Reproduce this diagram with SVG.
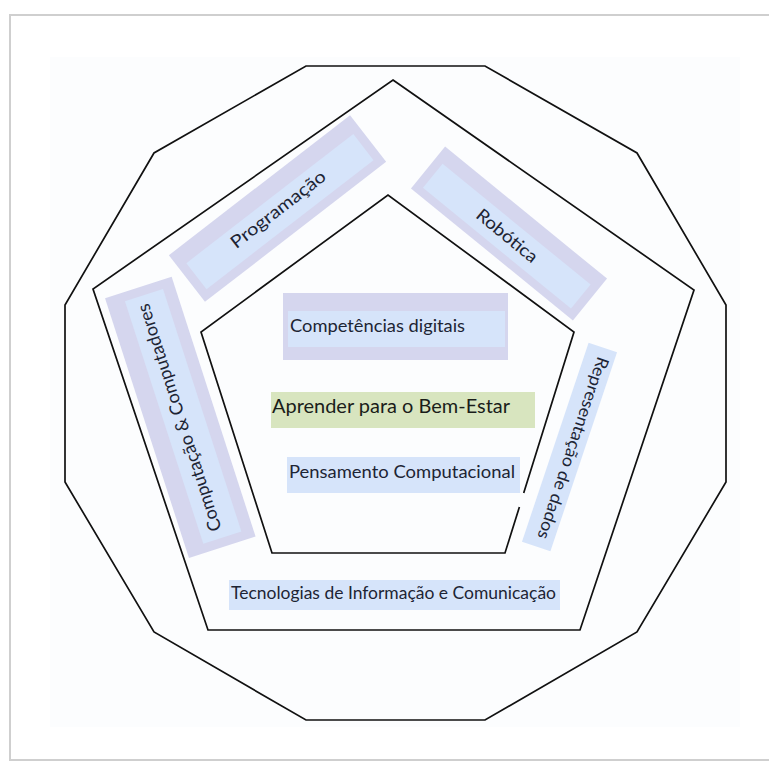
<svg xmlns="http://www.w3.org/2000/svg" width="769" height="765" viewBox="0 0 769 765">
<style>
.ln{fill:none;stroke:#111;stroke-width:1.7;stroke-linejoin:miter}
.lav{fill:#d5d6ee}
.lb{fill:#d6e4fa}
.gr{fill:#d8e5bf}
.t{font-family:Lato,"Open Sans","Liberation Sans",sans-serif;fill:#1d2434;text-anchor:middle}
</style>
<rect x="0" y="0" width="769" height="765" fill="#ffffff"/>
<rect x="10" y="15" width="800" height="745" fill="#ffffff" stroke="#cfcfcf" stroke-width="2"/>
<rect x="50" y="57" width="690" height="670" fill="#fcfdfe"/>
<g id="shapes">
<polygon id="outer-polygon" class="ln" points="306,66 485,66 637,153 726,305 726,482 637,632 485,720 306,720 154,632 65,482 65,305 154,153"/>
<polygon id="middle-pentagon" class="ln" points="393,80 694,290 580,630 208,630 93,289"/>
<polyline id="inner-pentagon" class="ln" points="519.4,507 505,553 272,553 201,332 388,195 574,332 523.7,493"/>
</g>
<g id="connectors"></g>
<g id="node-programacao" transform="translate(277.5,208.5) rotate(-37.7)">
<rect class="lav" x="-114.5" y="-29.5" width="229" height="59"/>
<rect class="lb" x="-105.5" y="-12.5" width="211" height="33"/>
<text class="t" x="0" y="7" font-size="17.5" textLength="115" lengthAdjust="spacingAndGlyphs">Programação</text>
</g>
<g id="node-robotica" transform="translate(509,233.5) rotate(39.2)">
<rect class="lav" x="-104.5" y="-27" width="209" height="54"/>
<rect class="lb" x="-95.5" y="-12" width="191" height="31"/>
<text class="t" x="0" y="9" font-size="17.5" textLength="74" lengthAdjust="spacingAndGlyphs">Robótica</text>
</g>
<g id="node-computacao" transform="translate(180.3,417.3) rotate(-107.9)">
<rect class="lav" x="-136.5" y="-35" width="273" height="70"/>
<rect class="lb" x="-127.5" y="-17" width="255" height="40"/>
<text class="t" x="0" y="5" font-size="18" textLength="238" lengthAdjust="spacingAndGlyphs">Computação &amp; Computadores</text>
</g>
<g id="node-representacao" transform="translate(569.5,447) rotate(108.5)">
<rect class="lb" x="-105" y="-15" width="210" height="30"/>
<text class="t" x="0" y="2" font-size="17" textLength="191" lengthAdjust="spacingAndGlyphs">Representação de dados</text>
</g>
<g id="node-competencias">
<rect class="lav" x="283" y="293" width="225" height="67"/>
<rect class="lb" x="288" y="311" width="217" height="36"/>
<text class="t" x="377.5" y="332" font-size="18" textLength="175" lengthAdjust="spacingAndGlyphs">Competências digitais</text>
</g>
<g id="node-aprender">
<rect class="gr" x="271" y="392" width="264" height="36"/>
<text class="t" x="391" y="413" font-size="19.5" style="fill:#1a1d1a" textLength="238" lengthAdjust="spacingAndGlyphs">Aprender para o Bem-Estar</text>
</g>
<g id="node-pensamento">
<rect class="lb" x="287" y="457" width="233" height="36"/>
<text class="t" x="402" y="478" font-size="18" textLength="226" lengthAdjust="spacingAndGlyphs">Pensamento Computacional</text>
</g>
<g id="node-tic">
<rect class="lb" x="229" y="580" width="331" height="30"/>
<text class="t" x="393.5" y="599" font-size="18" textLength="325" lengthAdjust="spacingAndGlyphs">Tecnologias de Informação e Comunicação</text>
</g>
</svg>
